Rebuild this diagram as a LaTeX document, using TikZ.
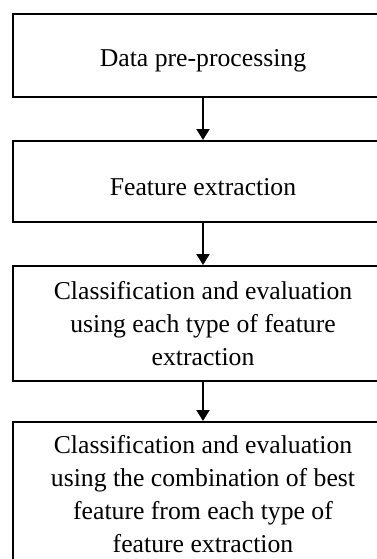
\documentclass[tikz,border=0pt]{standalone}
\usepackage{fontspec}
\setmainfont{Liberation Serif}
\usetikzlibrary{arrows.meta}

\tikzset{
  stepbox/.style={draw, line width=2pt, minimum width=380pt, align=center,
    inner sep=0pt, font=\fontsize{25.7}{33}\selectfont},
  flow/.style={line width=2pt, -{Triangle[width=13pt,length=11pt]}}
}

\begin{document}
\begin{tikzpicture}[x=1pt, y=-1pt]
  \clip (0,0) rectangle (377,559);
  \fill[white] (0,0) rectangle (377,559);
  \node[stepbox, minimum height=83pt, text height=22pt, text depth=0pt] (prep) at (203,55.5) {Data pre-processing};
  \node[stepbox, minimum height=81pt, text height=28pt, text depth=0pt] (feat) at (203,181.5) {Feature extraction};
  \node[stepbox, minimum height=115pt] (each) at (203,323.5)
    {Classification and evaluation\\using each type of feature\\extraction};
  \node[stepbox, minimum height=145pt] (comb) at (203,494.5)
    {Classification and evaluation\\using the combination of best\\feature from each type of\\feature extraction};
  \draw[flow] (prep) -- (feat);
  \draw[flow] (feat) -- (each);
  \draw[flow] (each) -- (comb);
\end{tikzpicture}
\end{document}
